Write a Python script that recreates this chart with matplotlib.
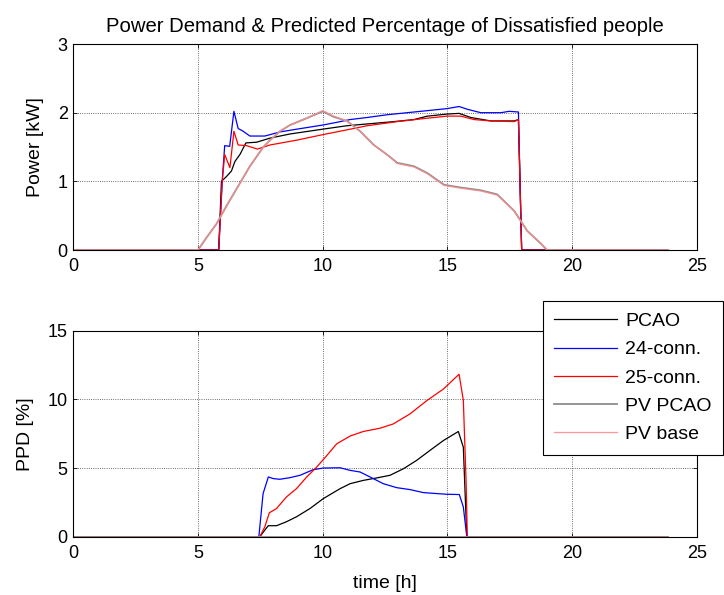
"""Power demand & PPD comparison, MATLAB-style two-panel figure"""
import matplotlib
matplotlib.use('Agg')
import matplotlib.pyplot as plt

plt.rcParams['font.family'] = ['Liberation Sans', 'DejaVu Sans']
plt.rcParams['font.size'] = 13

# ---- power demand [kW] ----
t_pcao = [0, 5.83, 5.94, 6.14, 6.34, 6.48, 6.68, 6.92, 7.35, 7.89, 8.69, 10.0, 10.97,
          11.91, 12.85, 13.66, 14.2, 15.0, 15.47, 15.94, 16.74, 17.68, 17.85, 17.98, 23.83]
p_pcao = [0, 0, 1.0, 1.07, 1.15, 1.29, 1.39, 1.56, 1.57, 1.63, 1.69, 1.76, 1.81,
          1.84, 1.87, 1.90, 1.95, 1.98, 1.99, 1.93, 1.88, 1.88, 1.90, 0, 0]

t_24 = [0, 5.83, 5.97, 6.07, 6.27, 6.44, 6.61, 6.81, 7.08, 7.68, 8.29, 8.96, 10.0, 10.57,
        11.1, 11.78, 12.58, 13.39, 14.2, 15.0, 15.47, 15.8, 16.34, 17.15, 17.48, 17.85, 17.98, 23.83]
p_24 = [0, 0, 1.0, 1.52, 1.51, 2.02, 1.77, 1.73, 1.66, 1.66, 1.72, 1.76, 1.82, 1.86,
        1.90, 1.93, 1.97, 2.0, 2.03, 2.06, 2.09, 2.05, 2.0, 2.0, 2.02, 2.01, 0, 0]

t_25 = [0, 5.83, 5.97, 6.07, 6.28, 6.44, 6.61, 6.95, 7.38, 7.89, 8.96, 10.0, 10.97, 11.78,
        12.99, 14.2, 15.0, 15.54, 16.07, 16.74, 17.68, 17.85, 17.98, 23.83]
p_25 = [0, 0, 1.0, 1.39, 1.20, 1.73, 1.53, 1.52, 1.47, 1.53, 1.60, 1.68, 1.75, 1.81,
        1.87, 1.92, 1.95, 1.95, 1.90, 1.88, 1.87, 1.90, 0, 0]

t_pv = [0, 5.0, 5.34, 5.74, 6.14, 6.61, 7.08, 7.62, 7.89, 8.29, 8.69, 9.36, 10.0, 10.44,
        10.97, 11.5, 12.05, 12.58, 12.99, 13.66, 14.2, 14.87, 15.54, 16.34, 17.0, 17.68,
        18.2, 18.76, 19.0, 23.83]
p_pv_pcao = [0, 0, 0.18, 0.38, 0.64, 0.93, 1.22, 1.50, 1.60, 1.73, 1.82, 1.92, 2.02, 1.94,
             1.88, 1.73, 1.53, 1.39, 1.27, 1.22, 1.12, 0.95, 0.91, 0.87, 0.81, 0.57,
             0.28, 0.09, 0, 0]
p_pv_base = [0, 0, 0.18, 0.38, 0.64, 0.93, 1.22, 1.50, 1.60, 1.73, 1.82, 1.92, 2.03, 1.95,
             1.88, 1.73, 1.53, 1.39, 1.26, 1.21, 1.11, 0.94, 0.90, 0.86, 0.80, 0.57,
             0.28, 0.09, 0, 0]

# ---- PPD [%] ----
tq_pcao = [0, 7.48, 7.68, 7.82, 8.15, 8.55, 8.95, 9.49, 10.03, 10.7, 11.1, 11.63, 12.17,
           12.7, 13.24, 13.77, 14.3, 14.84, 15.44, 15.64, 15.78, 23.83]
q_pcao = [0, 0, 0.48, 0.80, 0.80, 1.09, 1.45, 2.05, 2.78, 3.5, 3.86, 4.1, 4.28,
          4.47, 4.95, 5.56, 6.28, 7.0, 7.66, 6.52, 0, 0]

tq_24 = [0, 7.44, 7.61, 7.82, 8.02, 8.28, 8.69, 9.09, 9.62, 10.03, 10.7, 11.1, 11.5, 12.03,
         12.43, 12.97, 13.5, 14.04, 14.57, 14.97, 15.48, 15.64, 15.78, 23.83]
q_24 = [0, 0, 3.14, 4.35, 4.23, 4.18, 4.30, 4.47, 4.88, 5.0, 5.02, 4.83, 4.71, 4.23,
        3.86, 3.57, 3.43, 3.21, 3.14, 3.09, 3.07, 2.17, 0, 0]

tq_25 = [0, 7.48, 7.68, 7.86, 8.15, 8.55, 8.95, 9.36, 9.76, 10.17, 10.56, 11.1, 11.63, 12.3,
         12.83, 13.5, 14.17, 14.84, 15.47, 15.64, 15.75, 15.8, 23.83]
q_25 = [0, 0, 0.72, 1.74, 2.05, 2.9, 3.5, 4.35, 5.07, 5.92, 6.76, 7.33, 7.66, 7.9,
        8.21, 8.94, 9.9, 10.75, 11.83, 9.95, 4.1, 0, 0]

tq_pv = [0, 23.83]
q_pv_pcao = [0, 0]
q_pv_base = [0, 0]

labels = ['PCAO', '24-conn.', '25-conn.', 'PV PCAO', 'PV base']
colors = ['#000000', '#0000ff', '#ff0000', '#8c8c8c', '#ff8c8c']
x_ticks = [0, 5, 10, 15, 20, 25]

fig = plt.figure(figsize=(7.24, 5.95), dpi=100)
fig.patch.set_facecolor('white')
ax1 = fig.add_axes([0.1013, 0.5798, 0.861, 0.3462])
ax2 = fig.add_axes([0.1013, 0.098, 0.861, 0.3462])


def style(ax, yticks):
    ax.set_xlim(0, 25)
    ax.set_xticks(x_ticks)
    ax.set_ylim(yticks[0], yticks[-1])
    ax.set_yticks(yticks)
    ax.tick_params(direction='in', length=3, width=0.6, top=True, right=True,
                   labelsize=13)
    ax.tick_params(axis='x', pad=6)
    ax.tick_params(axis='y', pad=4)
    ax.grid(True, linestyle=':', color='#404040', linewidth=0.6)
    for s in ax.spines.values():
        s.set_linewidth(0.8)


lw = 0.9
ax1.plot(t_pcao, p_pcao, color=colors[0], lw=lw)
ax1.plot(t_24, p_24, color=colors[1], lw=lw)
ax1.plot(t_25, p_25, color=colors[2], lw=lw)
ax1.plot(t_pv, p_pv_pcao, color=colors[3], lw=1.3)
ax1.plot(t_pv, p_pv_base, color=colors[4], lw=0.9, alpha=0.9)
style(ax1, [0, 1, 2, 3])
ax1.set_ylabel('Power [kW]', fontsize=14, labelpad=9.5)
ax1.set_title('Power Demand & Predicted Percentage of Dissatisfied people',
              fontsize=14.6, pad=9)

h = []
h += ax2.plot(tq_pcao, q_pcao, color=colors[0], lw=lw, label=labels[0])
h += ax2.plot(tq_24, q_24, color=colors[1], lw=lw, label=labels[1])
h += ax2.plot(tq_25, q_25, color=colors[2], lw=lw, label=labels[2])
h += ax2.plot(tq_pv, q_pv_pcao, color=colors[3], lw=1.3, label=labels[3])
h += ax2.plot(tq_pv, q_pv_base, color=colors[4], lw=0.9, alpha=0.9, label=labels[4])
style(ax2, [0, 5, 10, 15])
ax2.set_ylabel('PPD [%]', fontsize=14, labelpad=9.5)
ax2.set_xlabel('time [h]', fontsize=14, labelpad=9)

leg = fig.legend(h, labels, loc='upper left', bbox_to_anchor=(0.7495, 0.4945),
                 fontsize=14, frameon=True, fancybox=False, framealpha=1,
                 edgecolor='black', handlelength=3.2, handletextpad=0.45,
                 labelspacing=0.55, borderpad=0.6, borderaxespad=0)
leg.get_frame().set_linewidth(0.8)

plt.savefig('out.png', dpi=100, facecolor='white')
